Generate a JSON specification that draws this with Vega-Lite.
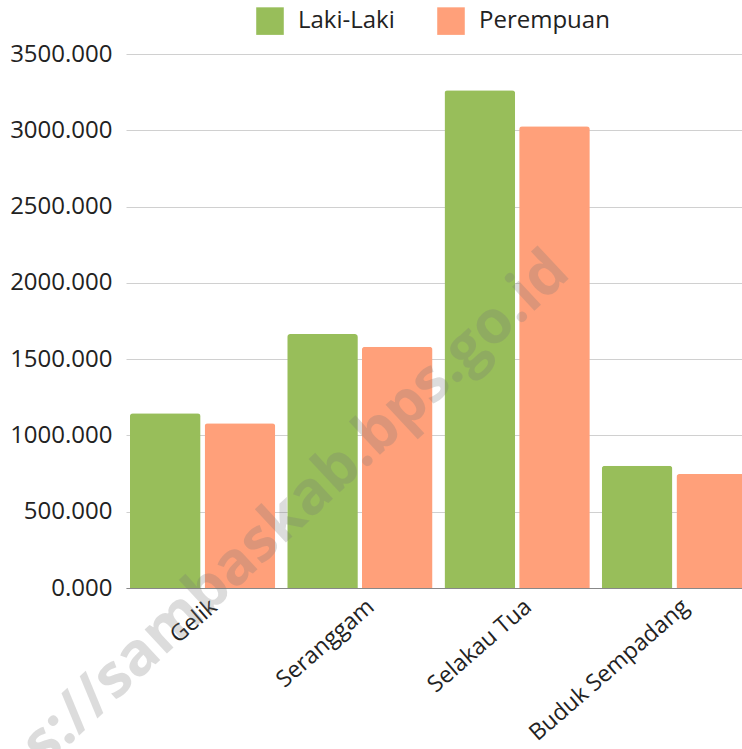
{
  "$schema": "https://vega.github.io/schema/vega-lite/v6.json",
  "width": 625,
  "height": 534,
  "autosize": {"type": "none"},
  "padding": {"left": 126, "top": 54, "right": 0, "bottom": 161},
  "background": "white",
  "config": {"view": {"stroke": null}, "font": "Open Sans"},
  "layer": [
    {
      "data": {
        "values": [
          {"desa": "Gelik", "jk": "Laki-Laki", "jumlah": 1145},
          {"desa": "Gelik", "jk": "Perempuan", "jumlah": 1080},
          {"desa": "Seranggam", "jk": "Laki-Laki", "jumlah": 1664},
          {"desa": "Seranggam", "jk": "Perempuan", "jumlah": 1581},
          {"desa": "Selakau Tua", "jk": "Laki-Laki", "jumlah": 3263},
          {"desa": "Selakau Tua", "jk": "Perempuan", "jumlah": 3027},
          {"desa": "Buduk Sempadang", "jk": "Laki-Laki", "jumlah": 801},
          {"desa": "Buduk Sempadang", "jk": "Perempuan", "jumlah": 747}
        ]
      },
      "mark": {"type": "bar", "cornerRadiusTopLeft": 3, "cornerRadiusTopRight": 3},
      "encoding": {
        "x": {
          "field": "desa",
          "type": "nominal",
          "sort": ["Gelik", "Seranggam", "Selakau Tua", "Buduk Sempadang"],
          "scale": {"paddingInner": 0.076, "paddingOuter": 0.025},
          "axis": {
            "title": null,
            "labelAngle": -41,
            "labelFontSize": 23,
            "labelColor": "#222222",
            "labelLimit": 0,
            "labelOffset": 4,
            "ticks": false,
            "domain": true,
            "domainColor": "#888888",
            "labelPadding": 7,
            "grid": false
          }
        },
        "xOffset": {
          "field": "jk",
          "sort": ["Laki-Laki", "Perempuan"],
          "scale": {"paddingInner": 0.054}
        },
        "y": {
          "field": "jumlah",
          "type": "quantitative",
          "scale": {"domain": [0, 3500]},
          "axis": {
            "title": null,
            "format": ".3f",
            "values": [0, 500, 1000, 1500, 2000, 2500, 3000, 3500],
            "grid": true,
            "gridColor": "#d0d0d0",
            "domain": false,
            "ticks": false,
            "labelFontSize": 24,
            "labelPadding": 14,
            "labelColor": "#222222"
          }
        },
        "color": {
          "field": "jk",
          "type": "nominal",
          "scale": {"domain": ["Laki-Laki", "Perempuan"], "range": ["#98BE5A", "#FFA07A"]},
          "legend": {
            "orient": "none",
            "legendX": 130,
            "legendY": -47,
            "direction": "horizontal",
            "title": null,
            "symbolType": "square",
            "symbolSize": 760,
            "symbolStrokeWidth": 0,
            "labelFontSize": 24,
            "labelColor": "#222222",
            "labelOffset": 14,
            "columnPadding": 42
          }
        }
      }
    },
    {
      "data": {"values": [{"t": "https://sambaskab.bps.go.id"}]},
      "mark": {
        "type": "text",
        "angle": -43,
        "fontSize": 60,
        "fontWeight": "bold",
        "fill": "#777777",
        "opacity": 0.25,
        "dx": -152,
        "align": "center",
        "baseline": "middle"
      },
      "encoding": {
        "x": {"datum": "Seranggam"},
        "y": {"datum": 911},
        "text": {"field": "t"}
      }
    }
  ]
}
